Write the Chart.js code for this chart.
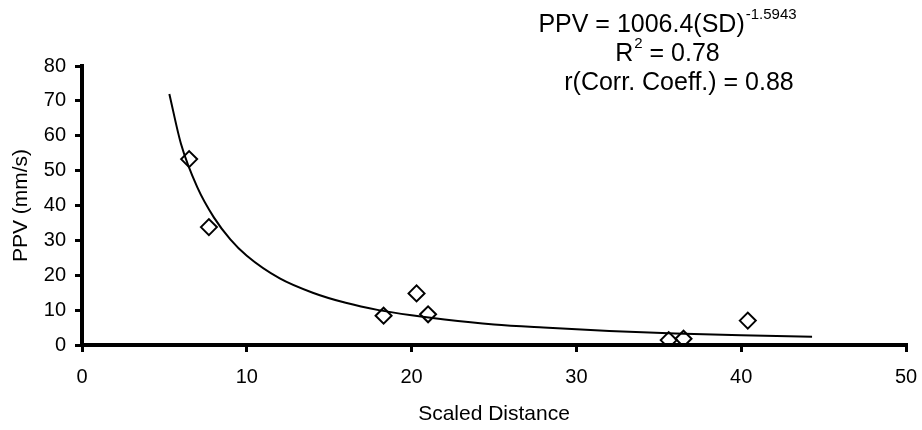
<!DOCTYPE html>
<html>
<head>
<meta charset="utf-8">
<script src="https://cdn.jsdelivr.net/npm/chart.js@4/dist/chart.umd.min.js"></script>
<style>
  html, body { margin: 0; padding: 0; background: #fff; }
  #wrap { width: 922px; height: 430px; }
</style>
</head>
<body>
<div id="wrap"><canvas id="chart" width="922" height="430"></canvas></div>
<script>
// measured points
const sdValues  = [6.5, 7.7, 18.3, 20.3, 21.0, 35.6, 36.5, 40.4];
const ppvValues = [53.3, 33.8, 8.4, 14.8, 8.8, 1.4, 1.8, 7.0];

// power trendline
const trendX = [5.3, 6, 7, 8, 9, 10, 12, 14, 16, 18, 20, 22, 25, 28, 32, 36, 40, 44.3];
const trendY = [72.0, 57.8, 45.2, 36.6, 30.3, 25.6, 19.1, 15.0, 12.1, 10.0, 8.5, 7.3, 5.9, 5.0, 4.0, 3.3, 2.8, 2.4];

const xTicks = [0, 10, 20, 30, 40, 50];
const yTicks = [0, 10, 20, 30, 40, 50, 60, 70, 80];

const fontFamily = "'Liberation Sans', Arial, sans-serif";

// equation text in the top right corner
const equationPlugin = {
    id: "equation",
    afterDraw(chart) {
        const ctx = chart.ctx;
        const cx = 667;
        ctx.save();
        ctx.fillStyle = "#000";
        ctx.textBaseline = "alphabetic";
        ctx.textAlign = "left";

        // line 1 with superscript
        const main = "PPV = 1006.4(SD)";
        const sup = "-1.5943";
        ctx.font = "25px " + fontFamily;
        const w1 = ctx.measureText(main).width;
        ctx.font = "15px " + fontFamily;
        const w2 = ctx.measureText(sup).width;
        let x = cx - (w1 + w2) / 2;
        ctx.font = "25px " + fontFamily;
        ctx.fillText(main, x, 32);
        ctx.font = "15px " + fontFamily;
        ctx.fillText(sup, x + w1 + 1, 19);

        // line 2: R^2
        ctx.font = "25px " + fontFamily;
        const r = "R";
        const rest = " = 0.78";
        const wr = ctx.measureText(r).width;
        const wrest = ctx.measureText(rest).width;
        ctx.font = "15px " + fontFamily;
        const w2b = ctx.measureText("2").width;
        x = cx - (wr + w2b + wrest) / 2;
        ctx.font = "25px " + fontFamily;
        ctx.fillText(r, x, 61);
        ctx.font = "15px " + fontFamily;
        ctx.fillText("2", x + wr + 1, 48);
        ctx.font = "25px " + fontFamily;
        ctx.fillText(rest, x + wr + w2b + 1, 61);

        // line 3
        ctx.textAlign = "center";
        ctx.fillText("r(Corr. Coeff.) = 0.88", cx + 12, 90);
        ctx.restore();
    }
};

const trendData = trendX.map((v, i) => ({ x: v, y: trendY[i] }));
const pointData = sdValues.map((v, i) => ({ x: v, y: ppvValues[i] }));

new Chart(document.getElementById("chart"), {
    type: "scatter",
    data: {
        datasets: [
            {
                label: "PPV",
                data: pointData,
                pointStyle: "rectRot",
                pointRadius: 8,
                pointBorderWidth: 2,
                borderColor: "#000",
                backgroundColor: "rgba(0,0,0,0)",
                showLine: false,
                order: 1
            },
            {
                label: "Power trend",
                data: trendData,
                showLine: true,
                borderColor: "#000",
                borderWidth: 2,
                pointRadius: 0,
                cubicInterpolationMode: "monotone",
                order: 2
            }
        ]
    },
    options: {
        responsive: false,
        animation: false,
        layout: { padding: { top: 66, right: 16, left: 0, bottom: 0 } },
        plugins: {
            legend: { display: false },
            tooltip: { enabled: false }
        },
        scales: {
            x: {
                type: "linear",
                min: 0,
                max: 50,
                afterBuildTicks: axis => { axis.ticks = xTicks.map(v => ({ value: v })); },
                afterFit: axis => {
                    axis.height = 85;
                    axis.paddingLeft = 0;
                    axis.paddingRight = 0;
                },
                border: { display: true, color: "#000", width: 4 },
                grid: { drawOnChartArea: false, color: "#000", lineWidth: 3, tickLength: 7 },
                ticks: { color: "#000", padding: 13, font: { family: fontFamily, size: 20 } },
                title: {
                    display: true,
                    text: "Scaled Distance",
                    color: "#000",
                    padding: { top: 0, bottom: 3 },
                    font: { family: fontFamily, size: 21 }
                }
            },
            y: {
                type: "linear",
                min: 0,
                max: 80,
                afterBuildTicks: axis => { axis.ticks = yTicks.map(v => ({ value: v })); },
                afterFit: axis => {
                    axis.width = 82;
                    axis.paddingTop = 0;
                    axis.paddingBottom = 0;
                },
                border: { display: true, color: "#000", width: 4 },
                grid: { drawOnChartArea: false, color: "#000", lineWidth: 3, tickLength: 7 },
                ticks: { color: "#000", padding: 9, font: { family: fontFamily, size: 20 } },
                title: {
                    display: true,
                    text: "PPV (mm/s)",
                    color: "#000",
                    padding: { top: 9, bottom: 0 },
                    font: { family: fontFamily, size: 21 }
                }
            }
        }
    },
    plugins: [equationPlugin]
});
</script>
</body>
</html>
